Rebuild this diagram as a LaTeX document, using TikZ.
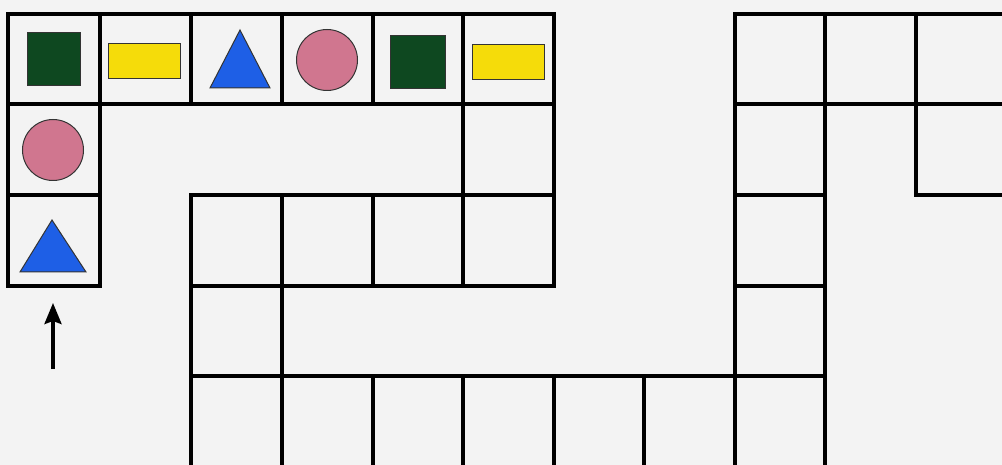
\documentclass[tikz,border=0pt]{standalone}
\usetikzlibrary{arrows.meta}
\definecolor{bg}{HTML}{F3F3F3}
\definecolor{dgreen}{HTML}{0E4820}
\definecolor{yel}{HTML}{F5DC0A}
\definecolor{blu}{HTML}{1E5FE6}
\definecolor{pnk}{HTML}{D0768F}
\begin{document}
\begin{tikzpicture}[x=1pt,y=-1pt,
  grid/.style={line width=3.2pt,black,line cap=rect},
  piece/.style={draw=black!80,line width=1pt,inner sep=0pt},
  sq/.style={piece,fill=dgreen,minimum width=53pt,minimum height=53pt},
  bar/.style={piece,fill=yel,minimum width=72pt,minimum height=35pt},
  disc/.style={piece,fill=pnk,circle,minimum size=61pt},
  tri/.style={draw=black!80,line width=1pt,fill=blu,line join=miter}]
\fill[bg] (0,0) rectangle (1002,465);
\useasboundingbox (0,0) rectangle (1002,465);
% --- left block: top row and left column
\draw[grid] (8,14) -- (554,14);
\draw[grid] (8,104) -- (554,104);
\draw[grid] (8,195) -- (100,195);
\draw[grid] (8,286) -- (100,286);
\draw[grid] (8,14) -- (8,286);
\draw[grid] (100,14) -- (100,286);
\foreach \x in {191,282,373} \draw[grid] (\x,14) -- (\x,104);
\draw[grid] (463,14) -- (463,286);
\draw[grid] (554,14) -- (554,286);
% row 2 strip
\draw[grid] (191,195) -- (554,195);
\draw[grid] (191,286) -- (554,286);
\draw[grid] (373,195) -- (373,286);
\draw[grid] (191,195) -- (191,470);
\draw[grid] (282,195) -- (282,470);
% bottom row
\draw[grid] (191,376) -- (825,376);
\foreach \x in {373,463,554,644} \draw[grid] (\x,376) -- (\x,470);
% right column
\draw[grid] (735,14) -- (735,470);
\draw[grid] (825,14) -- (825,470);
\draw[grid] (735,195) -- (825,195);
\draw[grid] (735,286) -- (825,286);
% right top
\draw[grid] (735,14) -- (1010,14);
\draw[grid] (735,104) -- (1010,104);
\draw[grid] (916,14) -- (916,195);
\draw[grid] (916,195) -- (1010,195);
% pieces
\node[sq] (g1) at (54,59) {};
\node[bar] (y1) at (144,61) {};
\draw[tri] (210,88) -- (270,88) -- (240,30) -- cycle;
\node[disc] (p1) at (327,60) {};
\node[sq,minimum width=55pt] (g2) at (418,62) {};
\node[bar] (y2) at (508,62) {};
\node[disc] (p2) at (53,150) {};
\draw[tri] (20,272) -- (86,272) -- (52,220) -- cycle;
% arrow
\coordinate (a0) at (53,369);
\coordinate (a1) at (53,303);
\draw[line width=3.5pt,-{Stealth[length=21pt,width=17pt,inset=3pt]}] (a0) -- (a1);
\end{tikzpicture}
\end{document}
